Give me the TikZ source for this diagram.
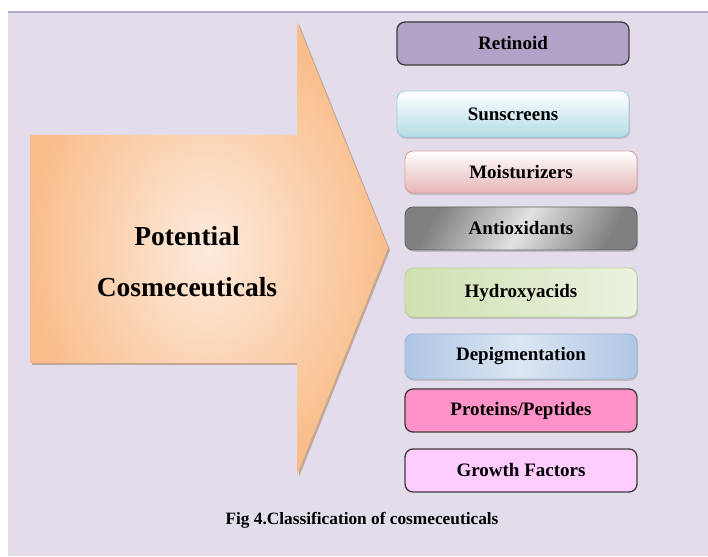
\documentclass[tikz,border=0pt]{standalone}
\usepackage{xcolor}
\usepackage{fontspec}
\setmainfont{Liberation Serif}
\usepackage{tikz}
\usetikzlibrary{shadows}

\definecolor{bglav}{HTML}{E3DDEB}
\definecolor{bgline}{HTML}{B4AACB}
\definecolor{peachout}{HTML}{F9BE8C}
\definecolor{peachin}{HTML}{FDEBDD}
\definecolor{retfill}{HTML}{B3A2C7}
\definecolor{sunfill}{HTML}{B4DCE6}
\definecolor{sunline}{HTML}{9FD0DE}
\definecolor{moifill}{HTML}{E6B6B6}
\definecolor{moiline}{HTML}{D9A3A2}
\definecolor{antdark}{HTML}{808080}
\definecolor{antlight}{HTML}{E2E2E2}
\definecolor{hydfill}{HTML}{D0E1B2}
\definecolor{hydlight}{HTML}{EBF2E0}
\definecolor{hydline}{HTML}{BFD49A}
\definecolor{depfill}{HTML}{AFC6E3}
\definecolor{deplight}{HTML}{DCE6F2}
\definecolor{depline}{HTML}{9AB5D8}
\definecolor{profill}{HTML}{FF93C9}
\definecolor{grofill}{HTML}{FFCCFF}
\definecolor{darkedge}{HTML}{3C3C3C}

\begin{document}
\begin{tikzpicture}[x=1pt,y=1pt,
	    catbox/.style={rounded corners=8pt, minimum width=232pt, inner sep=0pt,
	        font=\fontsize{19}{19}\selectfont\bfseries, text=black},
	    darkbox/.style={catbox, draw=darkedge, line width=1.3pt},
	    softbox/.style={catbox, line width=0.9pt,
	        drop shadow={shadow xshift=1pt, shadow yshift=-1.8pt, opacity=0.35}}]
	    \useasboundingbox (0,0) rectangle (708,556);
	    \fill[white] (0,0) rectangle (708,556);
	    \fill[bglav] (8,0) rectangle (708,544); %background
	    \draw[bgline, line width=1.2pt] (8,544) -- (708,544);
	    % big arrow
	    \fill[black!30!peachout, opacity=0.6] (32,419) -- (299,419) -- (299,532) -- (390,306) -- (299,79) -- (299,191) -- (32,191) -- cycle;
	    \shade[outer color=peachout, inner color=peachin] (30,421) -- (297,421) -- (297,534) -- (388,308) -- (297,81) -- (297,193) -- (30,193) -- cycle;
	    \node[font=\fontsize{27.5}{27.5}\selectfont\bfseries] (pot) at (187,320) {Potential};
	    \node[font=\fontsize{27.5}{27.5}\selectfont\bfseries] (cos) at (187,269) {Cosmeceuticals};
	    % classes
	    \node[darkbox, fill=retfill, minimum height=43pt] (ret) at (513,512.5) {Retinoid};
	    \node[softbox, draw=sunline, top color=white, bottom color=sunfill, minimum height=46pt] (sun) at (513,442) {Sunscreens};
	    \node[softbox, draw=moiline, top color=white, bottom color=moifill, minimum height=42pt] (moi) at (521,384) {Moisturizers};
	    \node[softbox, draw=darkedge!80, left color=antdark, right color=antdark, middle color=antlight, shading angle=60, minimum height=43pt] (ant) at (521,327.5) {Antioxidants};
	    \node[softbox, draw=hydline, left color=hydfill, right color=hydlight, minimum height=49pt] (hyd) at (521,263.5) {Hydroxyacids};
	    \node[softbox, draw=depline, left color=depfill, right color=depfill, middle color=deplight, minimum height=45pt] (dep) at (521,199.5) {Depigmentation};
	    \node[darkbox, fill=profill, minimum height=43pt] (pro) at (521,145.5) {Proteins/Peptides};
	    \node[darkbox, fill=grofill, minimum height=43pt] (gro) at (521,85.5) {Growth Factors};
	    \node[font=\fontsize{17.3}{17.3}\selectfont\bfseries] (cap) at (362,36) {Fig 4.Classification of cosmeceuticals};
\end{tikzpicture}
\end{document}
